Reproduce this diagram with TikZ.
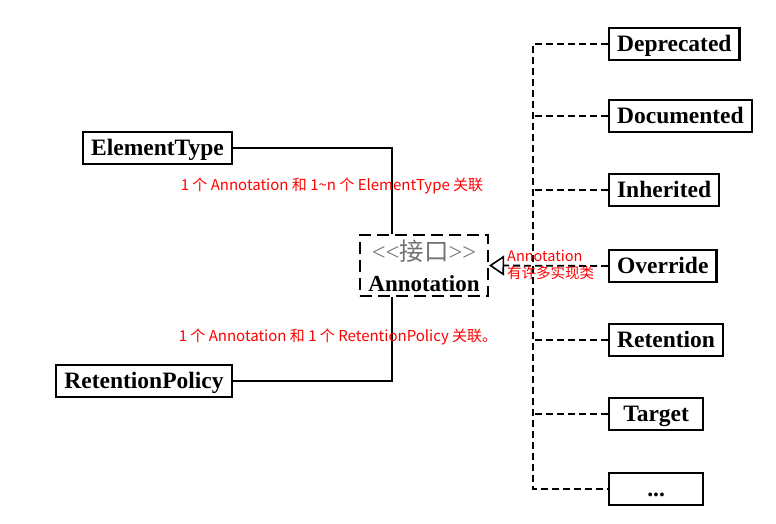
\documentclass[tikz,border=0pt]{standalone}
\usepackage{fontspec}
\setmainfont{Liberation Serif}
\newfontfamily\cjk{Noto Sans CJK SC}
\usetikzlibrary{arrows.meta}

\begin{document}
\begin{tikzpicture}[x=1pt, y=-1pt,
    box/.style={draw, line width=2.2pt, inner xsep=8pt, inner ysep=0pt, text height=18pt, text depth=3pt, minimum height=32pt, font=\fontsize{23.5}{27}\bfseries\selectfont},
    impl/.style={box, anchor=west, minimum width=94pt},
    link/.style={line width=1.8pt},
    dashlink/.style={line width=1.8pt, dash pattern=on 7pt off 4pt},
    note/.style={text=red, font=\cjk\fontsize{15}{17}\selectfont, inner sep=0pt}]
    \useasboundingbox (0,0) rectangle (776,523);
    \node[box] (etype) at (157.5,148) {ElementType};
    \node[box] (rpolicy) at (144,381) {RetentionPolicy};
    \node[draw, line width=2.2pt, dash pattern=on 12pt off 6pt, minimum width=128pt, minimum height=61pt, align=center, inner sep=0pt, font=\fontsize{23}{31}\selectfont] (ann) at (424,265.5)
        {{\color{gray!90!black}\fontsize{24.5}{31}\selectfont<{}<{\cjk 接口}>{}>}\\{\bfseries Annotation}};
    \node[impl] (dep) at (608,44) {Deprecated};
    \node[impl] (doc) at (608,116) {Documented};
    \node[impl] (inh) at (608,190) {Inherited};
    \node[impl] (ovr) at (608,266) {Override};
    \node[impl] (ret) at (608,340) {Retention};
    \node[impl] (tgt) at (608,414) {Target};
    \node[impl] (etc) at (608,489) {...};
    \coordinate (trunktop) at (533,44);
    \coordinate (trunkbot) at (533,489);
    \draw[link] (etype.east) -| ([xshift=-32pt]ann.north);
    \draw[link] (rpolicy.east) -| ([xshift=-32pt]ann.south);
    \draw[dashlink] (dep.west) -- (trunktop) -- (trunkbot) -- (etc.west);
    \foreach \n in {doc, inh, ret, tgt}
        \draw[dashlink] (\n.west) -- (trunktop |- \n.west);
    \draw[dashlink, -{Triangle[open, length=15pt, width=20pt, line width=1.6pt]}] (ovr.west) -- (ann.east);
    \node[note] (note1) at (332,186) {1 个 Annotation 和 1\textasciitilde n 个 ElementType 关联};
    \node[note] (note2) at (338,337) {1 个 Annotation 和 1 个 RetentionPolicy 关联。};
    \node[note, anchor=west, align=left, font=\cjk\fontsize{14.5}{17}\selectfont] (note3) at (507,264.5) {Annotation\\有许多实现类};
\end{tikzpicture}
\end{document}
